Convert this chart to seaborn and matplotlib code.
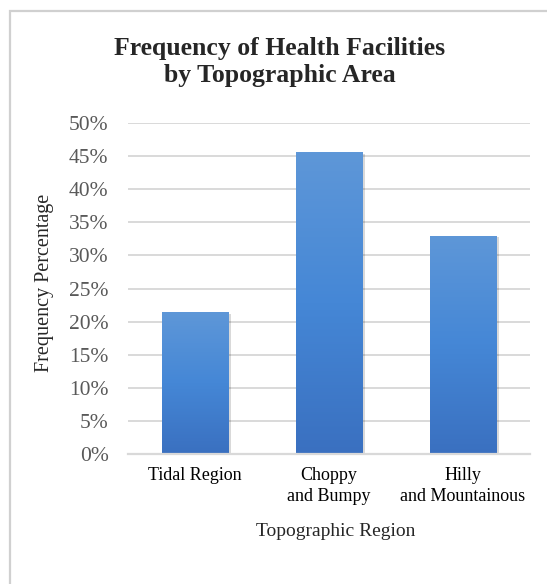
import numpy as np
import pandas as pd
import matplotlib
matplotlib.use('Agg')
import matplotlib.pyplot as plt
import matplotlib.patheffects as pe
from matplotlib.colors import LinearSegmentedColormap
from matplotlib.patches import Rectangle
from matplotlib.ticker import PercentFormatter
import seaborn as sns

# data
regions = ['Tidal Region', 'Choppy\nand Bumpy', 'Hilly\nand Mountainous']
freq_pct = [21.4, 45.6, 33.0]
y_ticks = [0, 5, 10, 15, 20, 25, 30, 35, 40, 45, 50]

sns.set_style('white')
plt.rcParams['font.family'] = ['Liberation Serif', 'DejaVu Serif']

W, H = 547, 584
fig = plt.figure(figsize=(W / 100, H / 100), dpi=100)
ax = fig.add_axes([128 / W, 1 - 454 / H, (530 - 128) / W, (454 - 123) / H])

df = pd.DataFrame({'region': regions, 'freq': freq_pct})
sns.barplot(data=df, x='region', y='freq', ax=ax, width=0.5,
            color='#4587d6', saturation=1, zorder=3)

# excel style gradient fill for the bars
grad = LinearSegmentedColormap.from_list('g', ['#3a70c0', '#4587d6', '#5e97d8'])
for p in ax.patches:
    x0, y0 = p.get_x(), p.get_y()
    w, h = p.get_width(), p.get_height()
    p.set_path_effects([pe.SimplePatchShadow(offset=(1.5, -1), alpha=0.15, shadow_rgbFace='#000000'),
                        pe.Normal()])
    p.set_edgecolor('none')
    img = ax.imshow(np.linspace(0, 1, 256).reshape(-1, 1), cmap=grad, origin='lower',
                    extent=(x0, x0 + w, y0, y0 + h), aspect='auto', zorder=4)
    img.set_clip_path(p)

ax.set_xlim(-0.5, 2.5)
ax.set_ylim(0, 50)
ax.set_yticks(y_ticks)
ax.yaxis.set_major_formatter(PercentFormatter(xmax=100, decimals=0))
ax.grid(axis='y', color='#d9d9d9', linewidth=1.4, zorder=0)
ax.set_axisbelow(True)
for s in ['top', 'right', 'left']:
    ax.spines[s].set_visible(False)
ax.spines['bottom'].set_color('#d9d9d9')
ax.spines['bottom'].set_linewidth(1.6)
ax.spines['bottom'].set_zorder(5)
ax.tick_params(axis='both', length=0)
ax.tick_params(axis='y', labelsize=15.5, labelcolor='#595959', pad=14)
ax.tick_params(axis='x', labelsize=13, labelcolor='black', pad=9)
for t in ax.get_xticklabels():
    t.set_linespacing(1.35)
ax.set_xlabel('Topographic Region', fontsize=14)
ax.xaxis.set_label_coords((336 - 128) / (530 - 128), -(532 - 454) / (454 - 123))
ax.xaxis.label.set_va('center')
ax.set_ylabel('Frequency Percentage', fontsize=14.5)
ax.yaxis.set_label_coords(-(128 - 45) / (530 - 128), (454 - 283) / (454 - 123))
ax.yaxis.label.set_va('center')

fig.text(280 / W, 1 - 62 / H, 'Frequency of Health Facilities\nby Topographic Area',
         ha='center', va='center', fontsize=18.5, fontweight='bold', linespacing=1.2)

# light gray chart border, cut off at the right and bottom
fig.patches.append(Rectangle((10 / W, -0.1), 1.2, 1.1 - 11 / H, transform=fig.transFigure,
                             fill=False, edgecolor='#d0d0d0', linewidth=1.6))

fig.savefig('out.png', dpi=100)
